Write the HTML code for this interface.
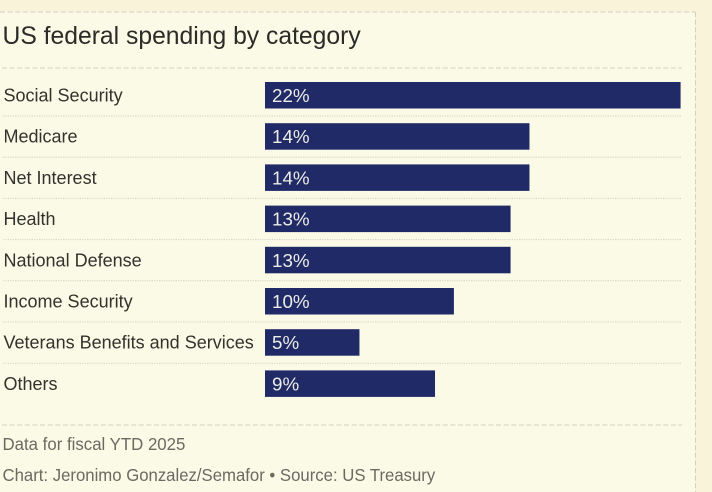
<!DOCTYPE html>
<html lang="en">
<head>
<meta charset="utf-8">
<title>US federal spending by category</title>
<style>
html,body{margin:0;padding:0;width:712px;height:492px;overflow:hidden;background:#f8f3d9;}
svg{display:block;font-family:"Liberation Sans",sans-serif;}
</style>
</head>
<body>
<svg id="chart" width="712" height="492" viewBox="0 0 712 492" xmlns="http://www.w3.org/2000/svg">
  <rect x="-2" y="12" width="697" height="490" fill="#fbfae6"/>
  <line x1="0" y1="12" x2="695" y2="12" stroke="#cfcfc4" stroke-width="1" stroke-dasharray="5 2.6"/>
  <line x1="695.5" y1="12" x2="695.5" y2="492" stroke="#cfcfc4" stroke-width="1" stroke-dasharray="5 2.6"/>
  <text x="2.5" y="44" font-size="24.7" fill="#2b2b27">US federal spending by category</text>
  <line x1="2" y1="68" x2="682" y2="68" stroke="#d2d2c6" stroke-width="1" stroke-dasharray="5 2.6"/>
  <g id="rows"></g>
  <line x1="2" y1="425" x2="682" y2="425" stroke="#d2d2c6" stroke-width="1" stroke-dasharray="5 2.6"/>
  <text transform="translate(2.5 450) scale(0.935 1)" font-size="18" fill="#6a6a62">Data for fiscal YTD 2025</text>
  <text transform="translate(2.5 481) scale(0.93 1)" font-size="18" fill="#6a6a62">Chart: Jeronimo Gonzalez/Semafor • Source: US Treasury</text>
</svg>
<script>
const categories = ["Social Security", "Medicare", "Net Interest", "Health", "National Defense", "Income Security", "Veterans Benefits and Services", "Others"];
const shares = [22, 14, 14, 13, 13, 10, 5, 9];

const SVG_NS = "http://www.w3.org/2000/svg";
const rows = document.getElementById("rows");
const xScale = function (v) { return v * 18.89; };
const yScale = function (i) { return 82 + i * 41.2; };
const BAR_X = 265;
const BAR_H = 26.5;

function make(tag, attrs) {
  const el = document.createElementNS(SVG_NS, tag);
  Object.keys(attrs).forEach(function (k) { el.setAttribute(k, attrs[k]); });
  return el;
}

categories.forEach(function (name, i) {
  const top = yScale(i);

  const label = make("text", { transform: "translate(3.5 " + (top + 19.5) + ") scale(0.974 1)", "font-size": 18.5, fill: "#33332e" });
  
  
  label.textContent = name;
  rows.appendChild(label);

  const bar = make("rect", { x: BAR_X, y: top, width: xScale(shares[i]), height: BAR_H, fill: "#202a67" });
  
  
  rows.appendChild(bar);

  const value = make("text", { x: BAR_X + 7, y: top + 20, "font-size": 18.8, fill: "#ecece6" });
  
  
  value.textContent = shares[i] + "%";
  rows.appendChild(value);

  if (i < categories.length - 1) {
    const sep = make("line", { x1: 3, y1: top + 34, x2: 681, y2: top + 34, stroke: "#d2d2c5", "stroke-width": 1, "stroke-dasharray": "1.2 1.2" });
    
    
    rows.appendChild(sep);
  }
});
</script>
</body>
</html>
